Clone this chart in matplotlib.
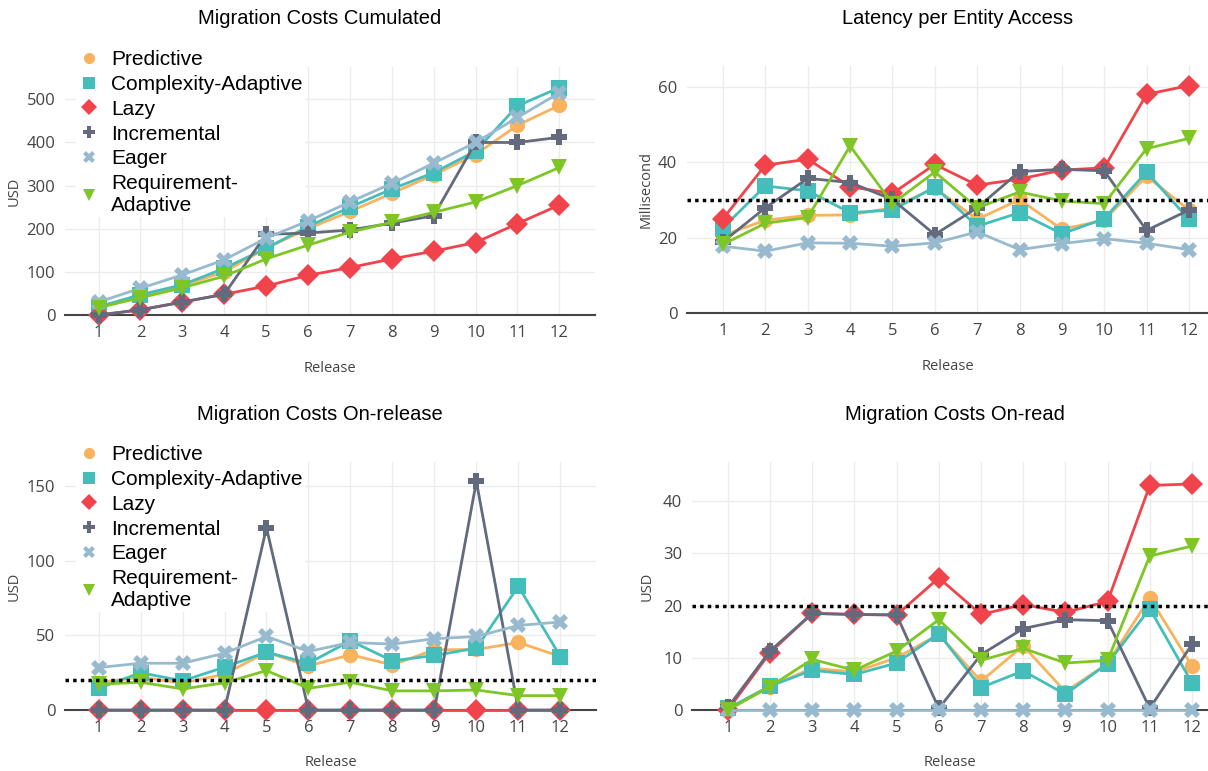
import matplotlib.pyplot as plt
from matplotlib.lines import Line2D

releases = list(range(1, 13))

names = ["Predictive", "Complexity-Adaptive", "Lazy", "Incremental", "Eager",
         "Requirement-\nAdaptive"]
colors = ["#F9B25E", "#45BEBB", "#F0434B", "#646A7E", "#98BACE", "#7EC625"]
markers = ["o", "s", "D", "P", "X", "v"]

# Migration Costs Cumulated (USD)
cum_predictive = [19, 45, 68, 100, 155, 200, 240, 282, 325, 372, 440, 486]
cum_complexity = [19, 47, 70, 108, 155, 205, 250, 292, 330, 380, 485, 527]
cum_lazy = [0, 12, 30, 48, 67, 92, 110, 130, 148, 168, 212, 255]
cum_incremental = [0, 12, 30, 48, 187, 190, 197, 213, 230, 400, 400, 412]
cum_eager = [30, 62, 93, 128, 178, 218, 262, 305, 352, 400, 458, 515]
cum_requirement = [17, 40, 63, 90, 130, 162, 192, 215, 238, 262, 300, 342]

# Latency per Entity Access (ms)
lat_predictive = [20.6, 24.6, 25.9, 26, 27.9, 33.2, 24.8, 30.1, 22.2, 24.6, 36.3, 27.3]
lat_complexity = [22.6, 33.7, 32.4, 26.6, 27.3, 33.4, 23, 26.6, 21, 25, 37.4, 24.8]
lat_lazy = [25, 39.2, 40.8, 33.5, 31.7, 39.4, 33.9, 35.5, 37.9, 38.5, 58, 60.3]
lat_incremental = [18.9, 27.9, 35.7, 34.6, 30.1, 20.8, 27.9, 37.5, 38.1, 37.7, 21.9, 27.3]
lat_eager = [17.7, 16.4, 18.6, 18.5, 17.7, 18.6, 21.5, 16.8, 18.4, 19.7, 18.5, 16.8]
lat_requirement = [18.2, 23.8, 25.3, 44.3, 29, 37.4, 27.9, 32.1, 29.7, 29, 43.6, 46.3]

# Migration Costs On-release (USD)
rel_predictive = [18.4, 22, 18, 24, 38.7, 29.5, 37, 30.2, 40.3, 40.5, 45.2, 35.8]
rel_complexity = [14.5, 25, 19.5, 28.7, 38.7, 31.3, 46.3, 32.9, 36.5, 41.4, 82.8, 35.8]
rel_lazy = [0, 0, 0, 0, 0, 0, 0, 0, 0, 0, 0, 0]
rel_incremental = [0, 0, 0, 0, 122, 0, 0, 0, 0, 153, 0, 0]
rel_eager = [28.4, 31.3, 31.3, 38, 49.2, 39.2, 45.2, 44.1, 47.7, 49.2, 56.6, 58.9]
rel_requirement = [17.2, 18.6, 14.1, 18.2, 26.4, 14.5, 18.6, 12.8, 12.8, 13.4, 9.6, 9.6]

# Migration Costs On-read (USD)
read_predictive = [0, 4.5, 8, 7.3, 10, 14.5, 5.5, 12.3, 3.5, 8.9, 21.5, 8.4]
read_complexity = [0.3, 4.6, 7.6, 6.8, 9, 14.6, 4.3, 7.5, 3, 8.9, 19.4, 5.2]
read_lazy = [0, 11, 18.5, 18.3, 18.2, 25.3, 18.3, 20.2, 18.7, 20.8, 43, 43.3]
read_incremental = [0.5, 11.3, 18.5, 18.3, 18.2, 0.3, 10.6, 15.6, 17.3, 17.1, 0.3, 12.6]
read_eager = [0, 0, 0, 0, 0, 0, 0, 0, 0, 0, 0, 0]
read_requirement = [0, 4.5, 9.7, 7.6, 11.3, 17.3, 9.5, 11.8, 9, 9.5, 29.5, 31.4]

W, H = 1208, 771
fig = plt.figure(figsize=(W / 100, H / 100), dpi=100)

TICK_FONT = "Open Sans"
TEXT_FONT = "Liberation Sans"


def px_axes(left, right, top, bottom):
    return fig.add_axes([left / W, 1 - bottom / H, (right - left) / W, (bottom - top) / H])


panels = [
    dict(box=(65, 595, 67, 315), title="Migration Costs Cumulated", ylabel="USD",
         series=[cum_predictive, cum_complexity, cum_lazy, cum_incremental, cum_eager, cum_requirement],
         ylim=(0, 575), yticks=[0, 100, 200, 300, 400, 500], xlim=(0.2, 12.85),
         ref=None, legend=True, ylab_x=15, xlab_y=366, title_xy=(320, 19)),
    dict(box=(687, 1208, 66, 313), title="Latency per Entity Access", ylabel="Millisecond",
         series=[lat_predictive, lat_complexity, lat_lazy, lat_incremental, lat_eager, lat_requirement],
         ylim=(0, 65.5), yticks=[0, 20, 40, 60], xlim=(0.15, 12.45),
         ref=30, legend=False, ylab_x=647, xlab_y=364, title_xy=(958, 19)),
    dict(box=(65, 596, 462, 710), title="Migration Costs On-release", ylabel="USD",
         series=[rel_predictive, rel_complexity, rel_lazy, rel_incremental, rel_eager, rel_requirement],
         ylim=(0, 166), yticks=[0, 50, 100, 150], xlim=(0.2, 12.85),
         ref=20, legend=True, ylab_x=15, xlab_y=760, title_xy=(320, 415)),
    dict(box=(692, 1208, 462, 710), title="Migration Costs On-read", ylabel="USD",
         series=[read_predictive, read_complexity, read_lazy, read_incremental, read_eager, read_requirement],
         ylim=(0, 47.5), yticks=[0, 10, 20, 30, 40], xlim=(0.15, 12.38),
         ref=20, legend=False, ylab_x=648, xlab_y=760, title_xy=(955, 415)),
]

for p in panels:
    left, right, top, bottom = p["box"]
    ax = px_axes(left, right, top, bottom)
    for vals, c, m in zip(p["series"], colors, markers):
        ax.plot(releases, vals, color=c, marker=m, markersize=11, linewidth=2,
                markeredgewidth=0, clip_on=False, zorder=3)
    if p["ref"] is not None:
        ax.axhline(p["ref"], color="black", linestyle=(0, (1, 1.2)), linewidth=2.5, zorder=4)
    ax.set_xlim(*p["xlim"])
    ax.set_ylim(*p["ylim"])
    ax.set_xticks(releases)
    ax.set_yticks(p["yticks"])
    ax.grid(True, color="#ececec", linewidth=1)
    ax.set_axisbelow(True)
    for s in ["top", "right", "left"]:
        ax.spines[s].set_visible(False)
    ax.spines["bottom"].set_color("#444444")
    ax.spines["bottom"].set_linewidth(1.5)
    ax.spines["bottom"].set_zorder(2)
    ax.tick_params(length=0, labelsize=12, labelcolor="#444444", pad=7)
    for lab in ax.get_xticklabels() + ax.get_yticklabels():
        lab.set_fontfamily(TICK_FONT)
    ax.set_xlabel("Release", fontsize=10.5, color="#444444", family=TICK_FONT)
    ax.set_ylabel(p["ylabel"], fontsize=10.5, color="#444444", family=TICK_FONT)
    ax.xaxis.set_label_coords(0.5, -(p["xlab_y"] - 5 - bottom) / (bottom - top))
    ax.yaxis.set_label_coords(-(left - p["ylab_x"] - 7) / (right - left), 0.5)
    tx, ty = p["title_xy"]
    fig.text(tx / W, 1 - ty / H, p["title"], ha="center", va="center",
             fontsize=14.5, family=TEXT_FONT)

    if p["legend"]:
        handles = [Line2D([], [], color=c, marker=m, linestyle="none", markersize=8,
                          markeredgewidth=0) for c, m in zip(colors, markers)]
        leg = ax.legend(handles, names, loc="upper left",
                        bbox_to_anchor=(76 / W, 1 - (top - 19) / H),
                        bbox_transform=fig.transFigure, frameon=True, fancybox=False,
                        facecolor="white", edgecolor="none", framealpha=1,
                        prop={"family": TEXT_FONT, "size": 15}, handletextpad=0.6,
                        labelspacing=0.28, borderpad=0.1, handlelength=1.0, borderaxespad=0)
        leg.set_zorder(2.5)
        for t in leg.get_texts():
            t.set_linespacing(1.2)

fig.savefig("out.png", dpi=100)
